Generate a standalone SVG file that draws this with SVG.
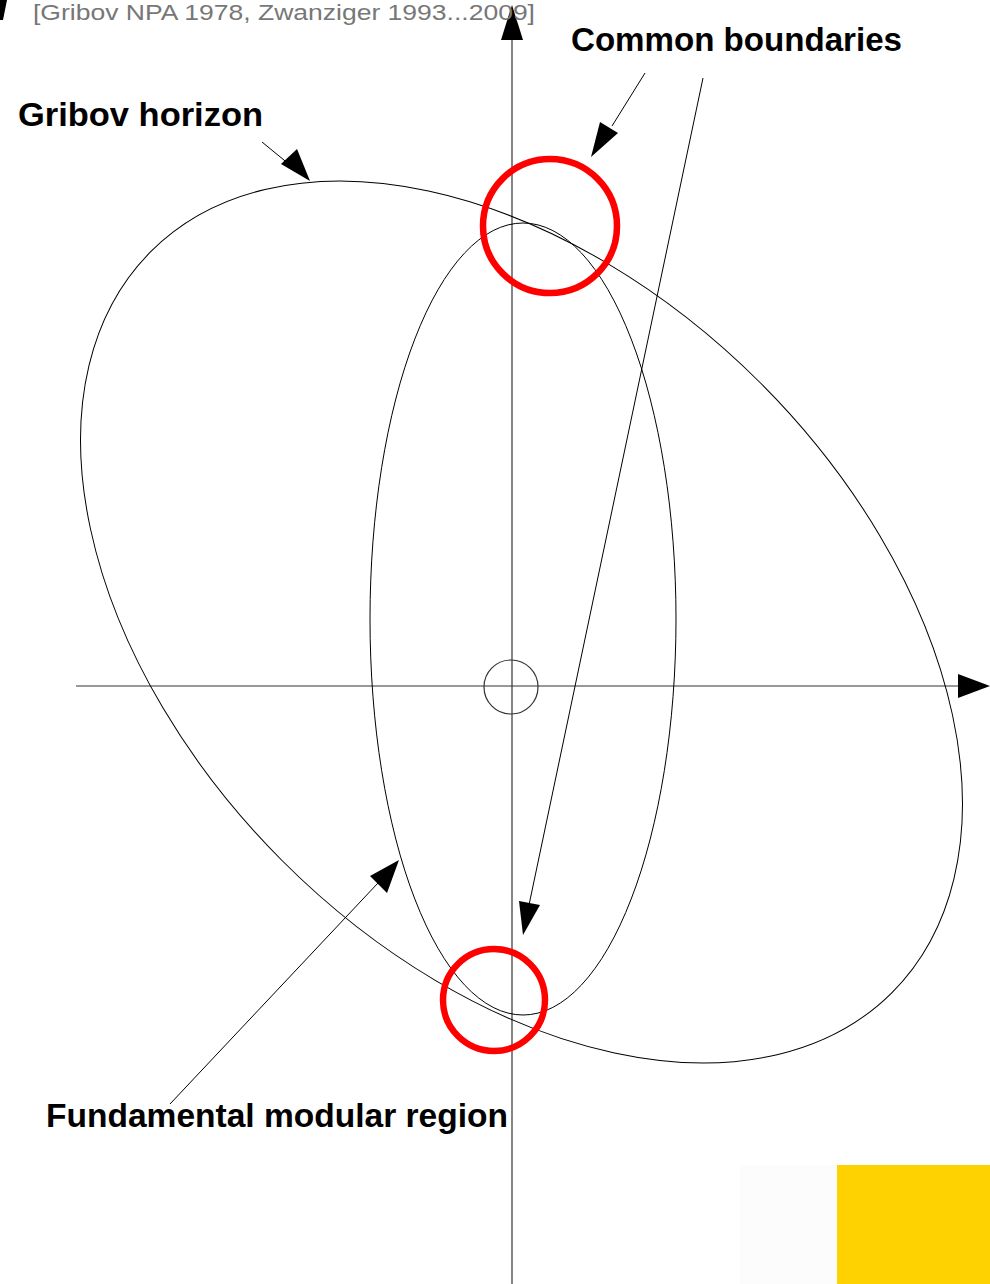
<svg xmlns="http://www.w3.org/2000/svg" width="990" height="1284" viewBox="0 0 990 1284">
<defs>
<style>
.ln{fill:none;stroke:#000;stroke-width:1}
.ax{fill:none;stroke:#333;stroke-width:1.2}
.red{fill:none;stroke:#ff0000;stroke-width:6.5}
.lbl{font-family:"Liberation Sans",Arial,sans-serif;font-weight:bold;font-size:34px;fill:#000}
.ref{font-family:"Liberation Sans",Arial,sans-serif;font-size:22px;fill:#777}
.head{fill:#000}
</style>
</defs>
<rect width="990" height="1284" fill="#fff"/>
<g id="background-blocks">
<rect x="740" y="1165" width="97" height="119" fill="#fcfcfc"/>
<rect x="837" y="1165" width="153" height="119" fill="#fed100"/>
</g>
<g id="axes">
<line class="ax" x1="512" y1="1284" x2="512" y2="30"/>
<polygon class="head" points="512,5 501,40 523,40"/>
<line class="ax" x1="76" y1="686" x2="962" y2="686"/>
<polygon class="head" points="990,686 958,674 958,698"/>
<circle id="origin" class="ax" cx="511" cy="687" r="27"/>
</g>
<g id="gribov-horizon">
<ellipse class="ln" cx="521.5" cy="622" rx="524" ry="338" transform="rotate(45 521.5 622)"/>
</g>
<g id="fundamental-modular-region">
<ellipse class="ln" cx="523" cy="619" rx="153" ry="396"/>
</g>
<g id="common-boundary-top">
<circle class="red" cx="550" cy="226" r="67"/>
</g>
<g id="common-boundary-bottom">
<circle class="red" cx="494" cy="1000" r="51"/>
</g>
<g id="connectors">
<line class="ln" x1="262" y1="142" x2="290" y2="165"/>
<polygon class="head" points="310,181 281,164 297,149"/>
<line class="ln" x1="645" y1="73" x2="612" y2="126"/>
<polygon class="head" points="591,157 600,122 618,133"/>
<line class="ln" x1="703" y1="78" x2="529" y2="905"/>
<polygon class="head" points="523,935 519,901 540,905"/>
<line class="ln" x1="170" y1="1104" x2="378" y2="883"/>
<polygon class="head" points="399,860 370,876 387,893"/>
<polygon class="head" points="0,0 7,0 3,20 0,20"/>
</g>
<g id="labels">
<text class="ref" x="33" y="20" textLength="502" lengthAdjust="spacingAndGlyphs">[Gribov NPA 1978, Zwanziger 1993...2009]</text>
<text class="lbl" x="571" y="51" textLength="331" lengthAdjust="spacingAndGlyphs">Common boundaries</text>
<text class="lbl" x="18" y="126" textLength="245" lengthAdjust="spacingAndGlyphs">Gribov horizon</text>
<text class="lbl" x="46" y="1127" textLength="462" lengthAdjust="spacingAndGlyphs">Fundamental modular region</text>
</g>
</svg>
